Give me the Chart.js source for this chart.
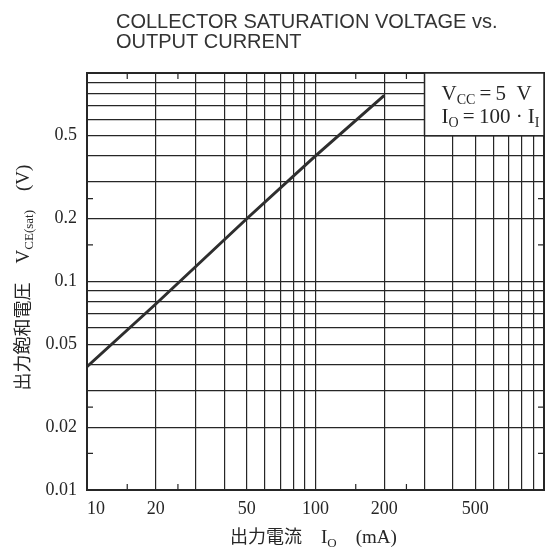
<!DOCTYPE html>
<html lang="ja">
<head>
<meta charset="UTF-8">
<title>Collector saturation voltage vs. output current</title>
<script src="https://cdn.jsdelivr.net/npm/chart.js@4/dist/chart.umd.min.js"></script>
<style>
  body { margin: 0; background: #fff; }
  #wrap { width: 547px; height: 553px; }
</style>
</head>
<body>
<div id="wrap"><canvas id="satChart" width="547" height="553"></canvas></div>

<script>
// measured curve: output current (mA) -> V_CE(sat) (V)
const currentMA = [10, 20, 50, 100, 200];
const vceSat = [0.039, 0.078, 0.2, 0.4, 0.78];

// grid lines, labelled ticks and the short extra ticks on the frame
const xGridValues = [10, 20, 30, 40, 50, 60, 70, 80, 90, 100, 200, 300, 400, 500, 600, 700, 800, 900, 1000];
const yGridValues = [0.01, 0.02, 0.03, 0.04, 0.05, 0.06, 0.07, 0.08, 0.09, 0.1, 0.2, 0.3, 0.4, 0.5, 0.6, 0.7, 0.8, 0.9, 1];
const xTickLabels = [10, 20, 50, 100, 200, 500];
const yTickLabels = [0.01, 0.02, 0.05, 0.1, 0.2, 0.5];
const xMinorTicks = [15, 25, 150, 250];
const yMinorTicks = [0.015, 0.025, 0.15, 0.25];

const INK = '#262626';
const SERIF = '"Liberation Serif", "DejaVu Serif", serif';
const CJK = '"Noto Sans CJK JP", sans-serif';

// draws text pieces one after another, subscripts smaller and lower
function richWidth(ctx, parts) {
    let w = 0;
    parts.forEach(p => { ctx.font = p.font; w += ctx.measureText(p.t).width; });
    return w;
}
function drawRich(ctx, parts, x, y) {
    parts.forEach(p => {
        ctx.font = p.font;
        ctx.fillText(p.t, x, y + (p.dy || 0));
        x += ctx.measureText(p.t).width;
    });
}

const framePlugin = {
    id: 'frame',
    afterDraw(chart) {
        const ctx = chart.ctx;
        const a = chart.chartArea;
        const xs = chart.scales.x, ys = chart.scales.y;
        ctx.save();
        ctx.strokeStyle = INK;
        ctx.fillStyle = INK;

        // frame
        ctx.lineWidth = 2;
        ctx.strokeRect(a.left, a.top, a.right - a.left, a.bottom - a.top);

        // short ticks inside the frame
        ctx.lineWidth = 1.2;
        ctx.beginPath();
        xMinorTicks.forEach(v => {
            const px = xs.getPixelForValue(v);
            ctx.moveTo(px, a.bottom); ctx.lineTo(px, a.bottom - 6);
            ctx.moveTo(px, a.top); ctx.lineTo(px, a.top + 6);
        });
        yMinorTicks.forEach(v => {
            const py = ys.getPixelForValue(v);
            ctx.moveTo(a.left, py); ctx.lineTo(a.left + 6, py);
            ctx.moveTo(a.right, py); ctx.lineTo(a.right - 6, py);
        });
        ctx.stroke();

        // condition box, top right
        const bx = xs.getPixelForValue(300), by = ys.getPixelForValue(0.5);
        ctx.fillStyle = '#fff';
        ctx.fillRect(bx, a.top, a.right - bx, by - a.top);
        ctx.lineWidth = 1.5;
        ctx.strokeRect(bx, a.top, a.right - bx, by - a.top);
        ctx.fillStyle = INK;
        ctx.textBaseline = 'alphabetic';
        ctx.textAlign = 'left';
        const big = '21px ' + SERIF, sub = '14px ' + SERIF;
        drawRich(ctx, [
            {t: 'V', font: big}, {t: 'CC', font: sub, dy: 4},
            {t: '\u2009=\u20095  V', font: big}
        ], bx + 17, a.top + 27);
        drawRich(ctx, [
            {t: 'I', font: big}, {t: 'O', font: sub, dy: 4},
            {t: '\u2009=\u2009100 \u00b7 I', font: big}, {t: 'I', font: sub, dy: 4}
        ], bx + 17, a.top + 50);

        // title
        ctx.font = '20px "Liberation Sans", Arial, sans-serif';
        ctx.fillStyle = '#333';
        ctx.fillText('COLLECTOR SATURATION VOLTAGE vs.', 116, 28);
        ctx.fillText('OUTPUT CURRENT', 116, 48);

        // x axis title
        ctx.fillStyle = INK;
        const xParts = [
            {t: '出力電流', font: '18px ' + CJK},
            {t: '\u2003I', font: '19px ' + SERIF}, {t: 'O', font: '13px ' + SERIF, dy: 4},
            {t: '\u2003(mA)', font: '19px ' + SERIF}
        ];
        drawRich(ctx, xParts, 230, 543);

        // y axis title, rotated
        const yParts = [
            {t: '出力飽和電圧', font: '18px ' + CJK},
            {t: '\u2003V', font: '19px ' + SERIF}, {t: 'CE(sat)', font: '13px ' + SERIF, dy: 4},
            {t: '\u2003(V)', font: '19px ' + SERIF}
        ];
        const yw = richWidth(ctx, yParts);
        ctx.translate(29, (a.top + a.bottom) / 2 - 4);
        ctx.rotate(-Math.PI / 2);
        drawRich(ctx, yParts, -yw / 2, 0);
        ctx.restore();
    }
};

new Chart(document.getElementById('satChart'), {
    type: 'line',
    data: {
        datasets: [{
            data: currentMA.map((x, i) => ({x: x, y: vceSat[i]})),
            borderColor: '#2e2e2e',
            borderWidth: 3,
            pointRadius: 0,
            tension: 0
        }]
    },
    options: {
        responsive: false,
        animation: false,
        layout: { padding: { top: 73, right: 3, left: 0, bottom: 0 } },
        plugins: { legend: { display: false }, tooltip: { enabled: false } },
        scales: {
            x: {
                type: 'logarithmic',
                min: 10,
                max: 1000,
                afterBuildTicks: s => { s.ticks = xGridValues.map(v => ({value: v})); },
                afterFit: s => { s.height = 63; s.paddingRight = 0; },
                grid: { color: INK, lineWidth: 1.2, drawTicks: false },
                border: { display: true, color: INK, width: 2 },
                ticks: {
                    autoSkip: false,
                    maxRotation: 0,
                    align: 'inner',
                    padding: 8,
                    color: INK,
                    font: { family: SERIF, size: 18 },
                    callback: v => xTickLabels.includes(v) ? String(v) : ''
                }
            },
            y: {
                type: 'logarithmic',
                min: 0.01,
                max: 1,
                afterBuildTicks: s => { s.ticks = yGridValues.map(v => ({value: v})); },
                afterFit: s => { s.width = 87; },
                grid: { color: INK, lineWidth: 1.2, drawTicks: false },
                border: { display: true, color: INK, width: 2 },
                ticks: {
                    autoSkip: false,
                    padding: 10,
                    color: INK,
                    font: { family: SERIF, size: 18 },
                    callback: v => yTickLabels.includes(v) ? String(v) : ''
                }
            }
        }
    },
    plugins: [framePlugin]
});
</script>
</body>
</html>
